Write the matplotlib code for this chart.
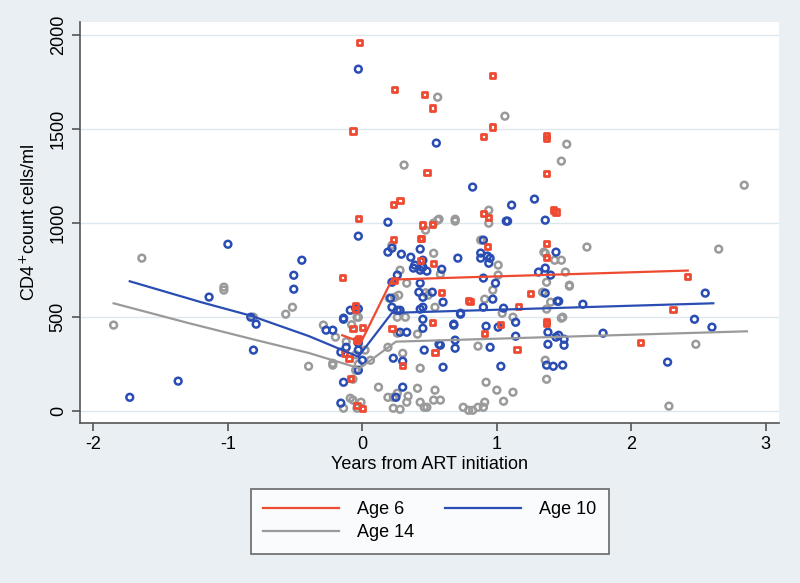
import matplotlib

matplotlib.use("Agg")
import matplotlib.pyplot as plt
import numpy as np

plt.rcParams["font.family"] = ["Liberation Sans", "DejaVu Sans"]
plt.rcParams["axes.unicode_minus"] = False

# scatter data: years from ART initiation, CD4 count
red_x = [-0.02, 0.24, 0.46, 0.52, -0.07, 0.48, 0.28, 0.23, -0.03,
         0.97, 0.97, 0.90, 1.37, 1.37, 1.37, 1.44, 1.42, 0.90, 0.94,
         2.42, 2.31, 2.07,
         0.59, 0.80, 1.25, 1.16, 1.37, 1.03, 1.15, 0.52, 0.54, 0.30,
         1.37, 1.37, 0.93, 0.44, 0.45, 0.52, 0.23, -0.15, 0.53, 0.43, 0.43,
         -0.05, -0.07, -0.04, 0.22, -0.13, -0.10, 0.00, -0.09, 0.91, 1.37,
         -0.03, 0.00, 0.24, 0.79, -0.04, -0.05]
red_y = [1960, 1710, 1686, 1612, 1490, 1271, 1122, 1101, 1027,
         1787, 1511, 1463, 1468, 1450, 1266, 1059, 1070, 1053, 1032,
         718, 543, 367,
         633, 585, 628, 559, 479, 463, 330, 473, 314, 245,
         894, 819, 878, 920, 990, 995, 915, 710, 787, 803, 920,
         564, 441, 378, 441, 308, 282, 16, 175, 415, 468,
         388, 447, 697, 590, 30, 540]

blue_x = [-0.03, -0.03, -1.00, -0.45, -0.51, -0.51, -1.14, 0.19, 0.19, 0.22,
          -1.73, -1.37, -0.83, -0.79, -0.81, -0.14, -0.09, -0.05, -0.03, -0.22,
          -0.27, -0.16, -0.12, -0.14, -0.16, -0.03, -0.03, 0.00, -0.03, 0.25,
          0.23, 0.21, 0.22, 0.26, 0.26,
          0.29, 0.36, 0.43, 0.45, 0.45, 0.38, 0.43, 0.48, 0.59, 0.71, 0.43,
          0.42, 0.52, 0.45, 0.60, 0.22, 0.28, 0.43, 0.45, 0.73, -0.14,
          1.08, 1.36, 0.90, 0.88, 0.88, 0.93, 0.95, 0.94, 1.44, 1.36, 1.31,
          1.40, 0.90, 0.99, 0.97, 1.36, 1.45, 1.64, 0.90, 1.05,
          0.44, 0.39, 0.73, 0.68, 0.45, 0.58, 0.69, 0.46, 0.60, 0.95, 1.03,
          0.92, 1.14, 1.14, 0.30, 1.37, 1.42, 1.49, 1.38, 1.50, 1.46, 1.38,
          1.46, 1.79, 2.27, 2.47, 2.55, 2.60,
          0.55, 0.82, 1.11, 1.28, 1.07, 1.01, 1.44, 1.50, 0.68, 0.45, 0.33,
          0.28, 0.69, 0.57, 0.30]
blue_y = [1819, 931, 888, 803, 723, 649, 607, 1005, 846, 867,
          74, 160, 500, 463, 325, 489, 537, 548, 545, 431,
          431, 314, 340, 154, 43, 362, 325, 271, 218, 74,
          282, 601, 686, 724, 537,
          835, 819, 862, 803, 766, 761, 750, 745, 755, 814, 681,
          633, 633, 606, 580, 553, 537, 543, 553, 516, 495,
          1011, 1016, 910, 841, 814, 825, 814, 787, 846, 761, 740,
          724, 708, 681, 596, 628, 585, 569, 553, 548,
          766, 777, 521, 458, 489, 351, 378, 325, 234, 340, 239,
          452, 473, 399, 128, 245, 239, 245, 356, 351, 404, 420,
          585, 415, 261, 489, 628, 447,
          1426, 1192, 1096, 1128, 1011, 447, 394, 383, 463, 441, 420,
          420, 335, 356, 266]

gray_x = [-1.64, -1.03, -1.03, 0.22, -1.85, -0.57, -0.52, -0.81, -0.40, -0.22,
          -0.29, 0.12, 0.06, 0.19, 0.24, -0.14, 0.23, 0.23,
          -0.20, 0.02, 0.26, 0.41, 0.30, 0.43, 0.19, 0.26, 0.28, 0.34, 0.33,
          0.41, 0.43, 0.48, 0.54, 0.58, 0.53, 0.75, 0.79, -0.07, -0.09, -0.01,
          -0.04, -0.07, -0.05, -0.22, -0.12, -0.05, -0.03, -0.08, -0.03,
          0.86, 0.92, 1.00, 1.12, 1.05, 0.91, 0.86, 0.90, 0.82, 1.36, 1.37,
          2.28, 2.48, 1.48, 1.54, 1.01, 1.01, 0.46,
          0.56, 1.06, 1.52, 1.48, 0.31, 2.84, 0.94, 0.94, 0.69, 0.56, 0.53,
          0.47, 0.88, 1.67, 2.65, 0.53, 1.35, 1.43, 1.48, 0.58, 1.51, 1.37,
          1.54, 0.28, 0.33, 0.27, 0.20, 0.47, 0.49, 0.54, 0.26, 0.32, -0.04,
          1.36, 1.34, 1.40, 0.97, 0.91, 1.04, 1.12, 1.49, 1.37, 0.57, 0.69]
gray_y = [814, 660, 644, 883, 458, 516, 553, 500, 239, 245,
          458, 128, 271, 340, 606, 16, 16, 74,
          394, 325, 415, 410, 308, 229, 74, 96, 10, 80, 48,
          122, 48, 21, 112, 59, 59, 21, 5, 59, 69, 48,
          16, 170, 218, 255, 370, 300, 250, 460, 500,
          346, 154, 112, 101, 53, 48, 21, 21, 5, 271, 170,
          27, 356, 495, 670, 777, 724, 21,
          1670, 1569, 1420, 1330, 1309, 1202, 1069, 1000, 1011, 1016, 1000,
          963, 910, 873, 862, 840, 846, 803, 803, 729, 740, 686,
          665, 750, 681, 617, 601, 630, 617, 553, 500, 500, 500,
          840, 633, 580, 644, 596, 521, 500, 500, 543, 1021, 1021]

# fitted trajectories
fit6_x = [-0.15, -0.01, 0.22, 2.42]
fit6_y = [404, 367, 700, 748]
fit10_x = [-1.73, -1.20, -0.83, -0.40, -0.03, 0.22, 2.61]
fit10_y = [691, 580, 508, 400, 290, 523, 574]
fit14_x = [-1.85, -1.30, -0.80, -0.40, -0.02, 0.25, 2.86]
fit14_y = [574, 470, 380, 310, 228, 370, 425]

bg = "#e9eff3"
c_red = "#ee4a32"
c_blue = "#2a4db3"
c_gray = "#9a9a9a"

fig = plt.figure(figsize=(8, 5.83), dpi=100, facecolor=bg)
ax = fig.add_axes([0.1, 0.274, 0.874, 0.688])
ax.set_facecolor("white")

ax.scatter(gray_x, gray_y, s=24, marker="o", facecolors="none",
           edgecolors=c_gray, linewidths=1.8, zorder=2)
ax.scatter(blue_x, blue_y, s=24, marker="o", facecolors="none",
           edgecolors=c_blue, linewidths=1.8, zorder=2)
ax.scatter(red_x, red_y, s=14, marker="s", facecolors="none",
           edgecolors=c_red, linewidths=2.0, zorder=2)

l6, = ax.plot(fit6_x, fit6_y, color=c_red, lw=1.6, zorder=3, label="Age 6")
l10, = ax.plot(fit10_x, fit10_y, color=c_blue, lw=1.6, zorder=3, label="Age 10")
l14, = ax.plot(fit14_x, fit14_y, color=c_gray, lw=1.6, zorder=3, label="Age 14")

ax.set_xlim(-2.1, 3.1)
ax.set_ylim(-64, 2069)
ax.set_xticks([-2, -1, 0, 1, 2, 3])
ax.set_yticks([0, 500, 1000, 1500, 2000])
ax.grid(axis="y", color="#dce7ee", lw=1.0)
ax.set_axisbelow(True)
for s in ["top", "right"]:
    ax.spines[s].set_visible(False)
for s in ["left", "bottom"]:
    ax.spines[s].set_color("#555555")
    ax.spines[s].set_linewidth(1.2)
ax.tick_params(axis="both", labelsize=13, color="#555555", length=6, width=1.2)
for lab in ax.get_yticklabels():
    lab.set_rotation(90)
    lab.set_va("center")

ax.set_xlabel("Years from ART initiation", fontsize=13, labelpad=2)
ax.set_ylabel(r"CD4$^{+}$count cells/ml", fontsize=13, labelpad=8)

# row-major order: Age 6, Age 10 / Age 14
leg = fig.legend([l6, l14, l10], ["Age 6", "Age 14", "Age 10"],
                 loc="center", bbox_to_anchor=(0.537, 0.106), ncol=2,
                 fontsize=13, frameon=True, fancybox=False, handlelength=4.2,
                 columnspacing=1.7, handletextpad=1.0, borderpad=0.7,
                 labelspacing=0.3)
leg.get_frame().set_edgecolor("#444444")
leg.get_frame().set_linewidth(1.2)

plt.savefig("out.png", dpi=100, facecolor=bg)
